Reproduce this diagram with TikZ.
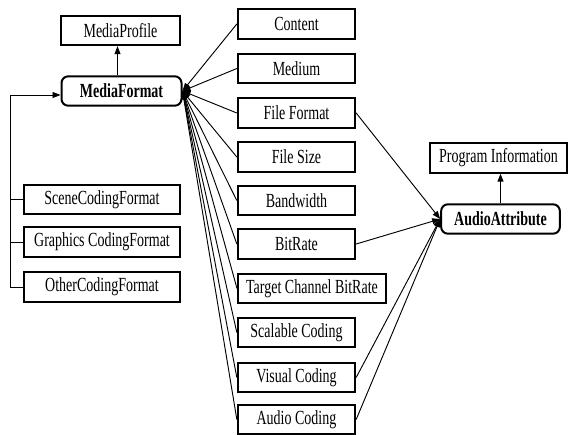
\documentclass[tikz,border=0pt]{standalone}
\usepackage{fontspec}
\newfontfamily\cf[FakeStretch=0.7]{Liberation Serif}
\usetikzlibrary{arrows.meta}
\begin{document}
\begin{tikzpicture}[x=0.75pt,y=-0.75pt,
  box/.style={draw,line width=1.5pt,inner sep=0pt,font=\cf\fontsize{15}{17}\selectfont,minimum height=22pt},
  rbox/.style={box,rounded corners=5pt,font=\cf\bfseries\fontsize{15}{17}\selectfont},
  conn/.style={line width=0.7pt,-{Triangle[length=6pt,width=4.5pt]}},
  plain/.style={line width=0.7pt}]
\useasboundingbox (0,0) rectangle (568,435);
% left column
\node[box,minimum width=89pt] (mp) at (120.5,30.5) {MediaProfile};
\node[rbox,minimum width=90pt] (mf) at (121.5,91) {MediaFormat};
\node[box,minimum width=117pt] (scene) at (102,199.5) {SceneCodingFormat};
\node[box,minimum width=117pt] (graph) at (102,242) {Graphics CodingFormat};
\node[box,minimum width=117pt] (other) at (102,287) {OtherCodingFormat};
% middle column
\node[box,minimum width=88pt] (content) at (296.5,24) {Content};
\node[box,minimum width=88pt] (medium) at (296.5,68.5) {Medium};
\node[box,minimum width=88pt] (ffmt) at (296.5,113) {File Format};
\node[box,minimum width=88pt] (fsize) at (296.5,157) {File Size};
\node[box,minimum width=88pt] (bw) at (296.5,200.5) {Bandwidth};
\node[box,minimum width=88pt] (br) at (296.5,244) {BitRate};
\node[box,minimum width=111pt] (tcb) at (312,288.5) {Target Channel BitRate};
\node[box,minimum width=88pt] (sc) at (296.5,332.5) {Scalable Coding};
\node[box,minimum width=88pt] (vc) at (296.5,377.5) {Visual Coding};
\node[box,minimum width=88pt] (ac) at (296.5,419.5) {Audio Coding};
% right column
\node[box,minimum width=103pt] (pi) at (498.5,158) {Program Information};
\node[rbox,minimum width=89pt] (aa) at (500.5,219) {AudioAttribute};
% connectors
\draw[conn] ([xshift=-3pt]mf.north) -- ([xshift=-3pt]mf.north |- mp.south);
\draw[conn] (aa.north) -- (pi.south -| aa.north);
\coordinate (lc) at (10,95);
\draw[conn] (other.west) -| (lc) -- (mf.west |- lc);
\draw[plain] (scene.west) -- (scene.west -| lc);
\draw[plain] (graph.west) -- (graph.west -| lc);
\foreach \n in {content,medium,ffmt,fsize,bw,br,tcb,sc,vc,ac}
  \draw[conn] (\n.west) -- (mf.east);
\foreach \n in {ffmt,br,vc,ac}
  \draw[conn] (\n.east) -- (aa.west);
\end{tikzpicture}
\end{document}
